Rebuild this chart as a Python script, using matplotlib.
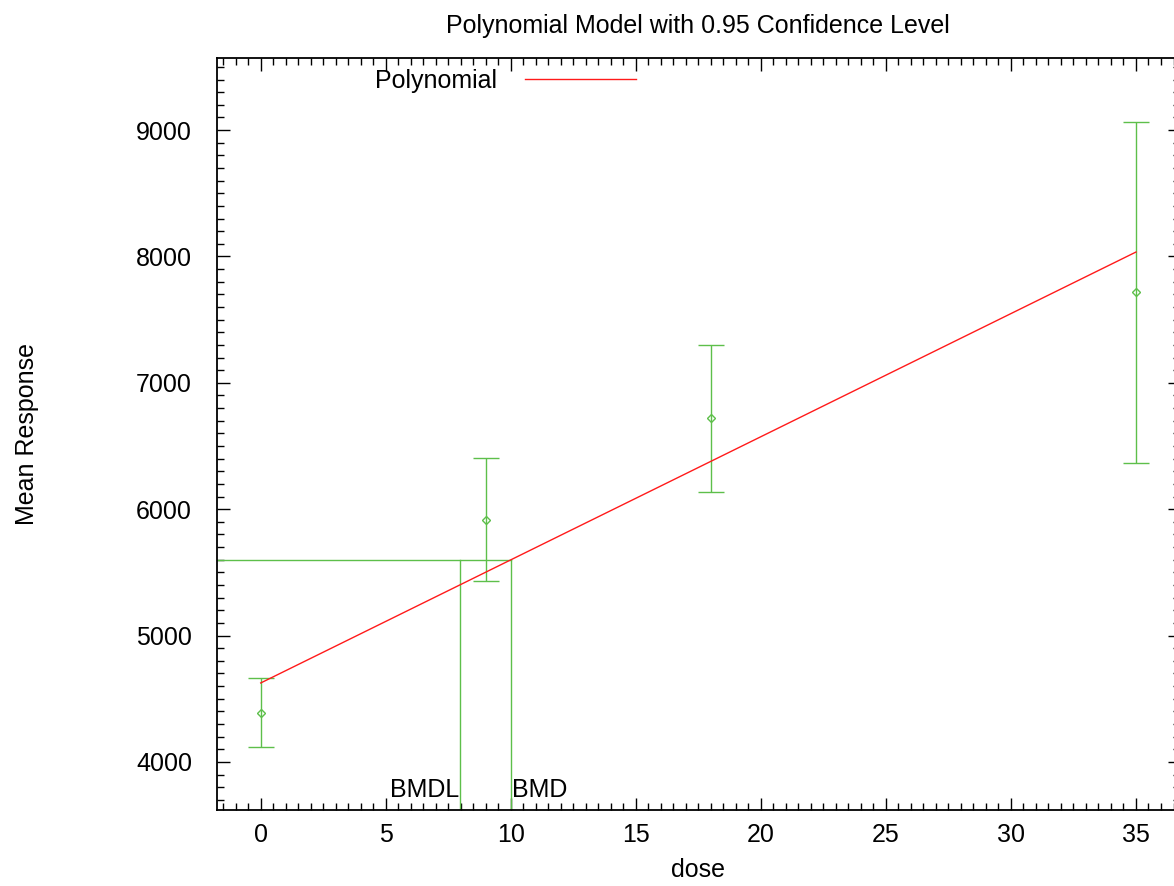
import matplotlib
matplotlib.use("Agg")
import matplotlib.pyplot as plt
from matplotlib.ticker import MultipleLocator

plt.rcParams['font.family'] = ['Liberation Sans', 'DejaVu Sans']

# --- DATA ---
doses = [0, 9, 18, 35]
means = [4390, 5915, 6721, 7718]
upper = [4665, 6405, 7299, 9063]
lower = [4119, 5432, 6136, 6366]

fit_dose = [0, 35]
fit_resp = [4625, 8035]

bmd = 10.0
bmdl = 7.97
bmr_resp = 5598

GREEN = '#5dbf4a'
RED = '#ff1a1a'
FS = 18

fig = plt.figure(figsize=(11.74, 8.86), dpi=100)
ax = fig.add_axes([0.1848, 0.0858, 0.8201, 0.8487])

yerr_lo = [m - l for m, l in zip(means, lower)]
yerr_hi = [u - m for m, u in zip(means, upper)]
ax.errorbar(doses, means, yerr=[yerr_lo, yerr_hi], fmt='D', color=GREEN,
            mfc='none', ms=4.5, mew=1.0, elinewidth=1.0, capsize=9.5,
            capthick=1.0, zorder=3)

ax.plot(fit_dose, fit_resp, color=RED, lw=1.0, label='Polynomial', zorder=4)

xmin, xmax = -1.75, 36.75
ymin, ymax = 3620, 9570

# BMD / BMDL markers
ax.plot([xmin, bmd], [bmr_resp, bmr_resp], color=GREEN, lw=1.0)
ax.plot([bmd, bmd], [ymin, bmr_resp], color=GREEN, lw=1.0)
ax.plot([bmdl, bmdl], [ymin, bmr_resp], color=GREEN, lw=1.0)
ax.text(bmdl - 0.02, 3723, 'BMDL', ha='right', va='baseline', fontsize=FS)
ax.text(bmd + 0.05, 3723, 'BMD', ha='left', va='baseline', fontsize=FS)

ax.set_xlim(xmin, xmax)
ax.set_ylim(ymin, ymax)

ax.xaxis.set_major_locator(MultipleLocator(5))
ax.xaxis.set_minor_locator(MultipleLocator(0.5))
ax.yaxis.set_major_locator(MultipleLocator(1000))
ax.yaxis.set_minor_locator(MultipleLocator(100))
ax.tick_params(which='both', direction='in', top=True, right=True,
               labelsize=FS)
ax.tick_params(axis='x', which='major', pad=9.5)
ax.tick_params(axis='y', which='major', pad=18)
ax.tick_params(which='major', length=9, width=1)
ax.tick_params(which='minor', length=5, width=1)
for s in ax.spines.values():
    s.set_linewidth(1.3)

ax.set_xlabel('dose', fontsize=FS, labelpad=7.5)
ax.set_ylabel('Mean Response', fontsize=FS, labelpad=70)
ax.set_title('Polynomial Model with 0.95 Confidence Level', fontsize=FS, pad=18)

ax.legend(loc='upper left', bbox_to_anchor=(0.1641, 0.986), frameon=False,
          borderaxespad=0, borderpad=0, fontsize=FS, markerfirst=False,
          handlelength=4.44, handletextpad=1.12)

fig.savefig('out.png', dpi=100)
